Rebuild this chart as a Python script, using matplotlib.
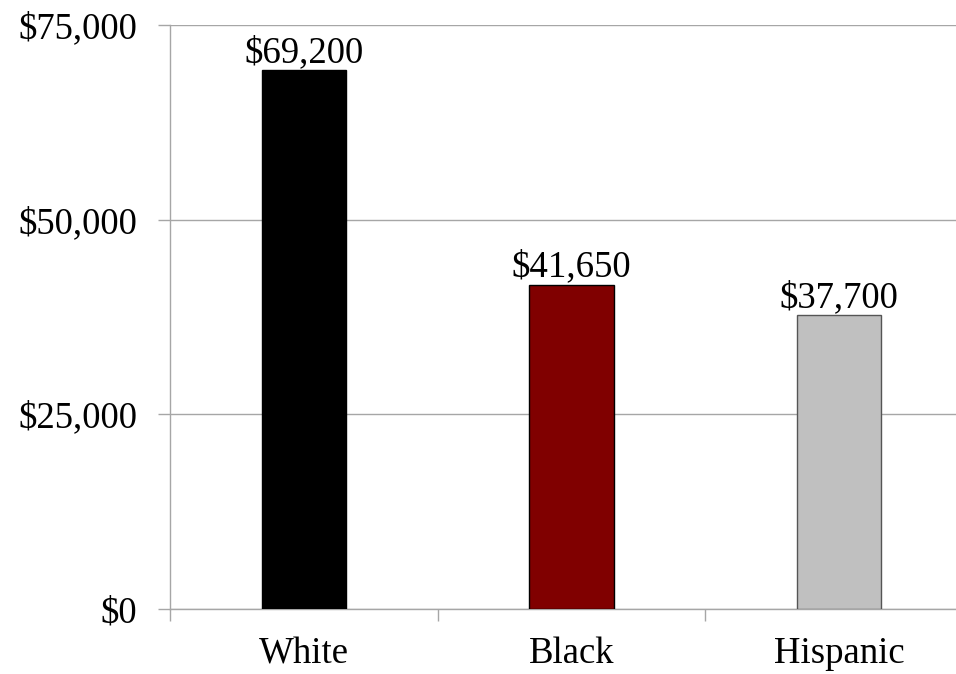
import matplotlib
matplotlib.use("Agg")
import matplotlib.pyplot as plt
import matplotlib.ticker as ticker

# ── Dados ─────────────────────────────────────────────────────────────────────

groups = ["White", "Black", "Hispanic"]
values = [69200, 41650, 37700]
fills = ["#000000", "#800000", "#c0c0c0"]
edges = ["#000000", "#000000", "#555555"]
y_ticks = [0, 25000, 50000, 75000]

# ── Estilo ────────────────────────────────────────────────────────────────────

GRID = "#a6a6a6"
plt.rcParams.update({
    "font.family": ["Liberation Serif", "DejaVu Serif"],
    "font.size": 26.5,
})

fig = plt.figure(figsize=(9.56, 6.74), dpi=100)
# eixo vai um pouco além da borda direita da figura
ax = fig.add_axes([170 / 956, 65 / 674, 803 / 956, 584 / 674])

x = list(range(len(groups)))
ax.bar(x, values, width=0.315, color=fills, edgecolor=edges,
       linewidth=1.0, zorder=3)

for xi, v in zip(x, values):
    ax.annotate(f"${v:,.0f}", (xi, v), xytext=(0, 0),
                textcoords="offset points", ha="center", va="bottom",
                color="black", zorder=4)

ax.set_xlim(-0.5, len(groups) - 0.5)
ax.set_ylim(0, 75000)
ax.set_yticks(y_ticks)
ax.yaxis.set_major_formatter(ticker.FuncFormatter(lambda v, _: f"${v:,.0f}"))

# categorias: rótulos no centro, marcas entre as categorias
ax.set_xticks([i - 0.5 for i in range(len(groups) + 1)])
ax.set_xticklabels([])
ax.set_xticks(x, minor=True)
ax.set_xticklabels(groups, minor=True)
ax.tick_params(axis="x", which="minor", length=0, pad=20)
ax.tick_params(axis="x", which="major", length=8.5, width=1, color=GRID,
               direction="out")
ax.tick_params(axis="y", length=8.5, width=1, color=GRID, pad=15,
               direction="out")

ax.yaxis.grid(True, color=GRID, linewidth=1, zorder=0)
ax.set_axisbelow(True)
for side in ["top", "right"]:
    ax.spines[side].set_visible(False)
for side in ["left", "bottom"]:
    ax.spines[side].set_color(GRID)
    ax.spines[side].set_linewidth(1)

fig.savefig("out.png", dpi=100, facecolor="white")
